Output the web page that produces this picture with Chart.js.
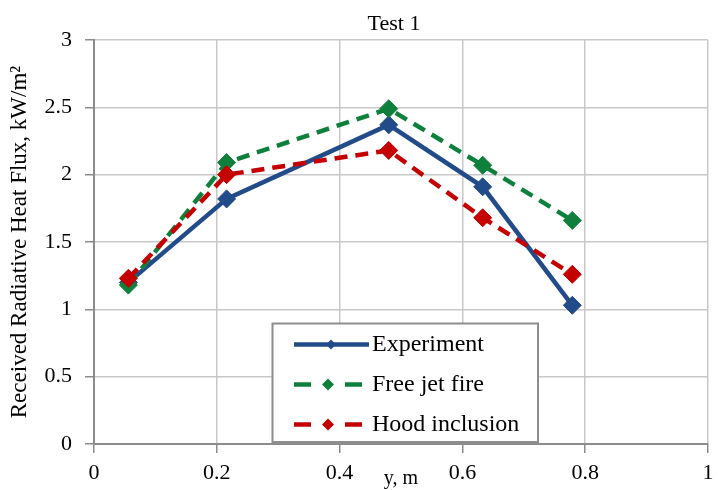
<!DOCTYPE html>
<html>
<head>
<meta charset="utf-8">
<script src="https://cdn.jsdelivr.net/npm/chart.js@4.4.1/dist/chart.umd.min.js"></script>
<style>
  html, body { margin: 0; padding: 0; background: #fff; }
  #wrap { width: 718px; height: 490px; }
</style>
</head>
<body>
<div id="wrap"><canvas id="c" width="718" height="490"></canvas></div>
<script>
// Test 1: received radiative heat flux along the y direction
const chartTitle = 'Test 1';
const xTitle = 'y, m';
const yTitle = 'Received Radiative Heat Flux, kW/m²';

const positions     = [0.056, 0.216, 0.48, 0.633, 0.779];
const experiment    = [1.20, 1.82, 2.37, 1.91, 1.03];
const freeJetFire   = [1.18, 2.09, 2.49, 2.07, 1.66];
const hoodInclusion = [1.23, 2.00, 2.18, 1.68, 1.26];
const seriesNames   = ['Experiment', 'Free jet fire', 'Hood inclusion'];

const xTicks = [0, 0.2, 0.4, 0.6, 0.8, 1];
const yTicks = [0, 0.5, 1, 1.5, 2, 2.5, 3];

const SERIF = "'Liberation Serif', 'Times New Roman', serif";
Chart.defaults.font.family = SERIF;
Chart.defaults.color = '#000';

const toPoints = (vals) => vals.map((v, i) => ({ x: positions[i], y: v }));

function series(label, values, color, dash, order) {
  return {
    label,
    data: toPoints(values),
    borderColor: color,
    backgroundColor: color,
    borderWidth: 4.5,
    borderDash: dash,
    pointStyle: 'rectRot',
    pointRadius: 9,
    pointBorderWidth: 1,
    pointBorderColor: color,
    pointBackgroundColor: color,
    tension: 0,
    order
  };
}

// Title and boxed legend drawn on top of the plot
const overlay = {
  id: 'overlay',
  afterDraw(chart) {
    const ctx = chart.ctx;
    ctx.save();
    ctx.fillStyle = '#000';
    ctx.font = '22px ' + SERIF;
    ctx.textAlign = 'center';
    ctx.textBaseline = 'alphabetic';
    ctx.fillText(chartTitle, 394, 29.5);

    // legend box
    const bx = 272.5, by = 323.5, bw = 265.5, bh = 118.5;
    ctx.fillStyle = '#fff';
    ctx.fillRect(bx, by, bw, bh);
    ctx.strokeStyle = '#8e8e8e';
    ctx.lineWidth = 2;
    ctx.strokeRect(bx, by, bw, bh);

    const rows = [344.5, 384.5, 424.5];
    chart.data.datasets.forEach((ds, i) => {
      const y = rows[i];
      const dashed = ds.borderDash && ds.borderDash.length;
      ctx.strokeStyle = ds.borderColor;
      ctx.fillStyle = ds.borderColor;
      ctx.lineWidth = 4.5;
      ctx.setLineDash([]);
      ctx.beginPath();
      if (dashed) {
        ctx.moveTo(294, y); ctx.lineTo(311, y);
        ctx.moveTo(345, y); ctx.lineTo(362, y);
      } else {
        ctx.moveTo(294, y); ctx.lineTo(369, y);
      }
      ctx.stroke();
      const r = dashed ? 6 : 5;
      const cx = dashed ? 328 : 331;
      ctx.beginPath();
      ctx.moveTo(cx - r, y); ctx.lineTo(cx, y - r);
      ctx.lineTo(cx + r, y); ctx.lineTo(cx, y + r);
      ctx.closePath();
      ctx.fill();
      ctx.fillStyle = '#000';
      ctx.font = '24px ' + SERIF;
      ctx.textAlign = 'left';
      ctx.textBaseline = 'alphabetic';
      ctx.fillText(ds.label, 372, y + 6);
    });
    ctx.restore();
  }
};

new Chart(document.getElementById('c'), {
  type: 'line',
  data: {
    datasets: [
      series(seriesNames[0], experiment, '#224b8a', [], 3),
      series(seriesNames[1], freeJetFire, '#0f803c', [13, 8], 2),
      series(seriesNames[2], hoodInclusion, '#c40000', [13, 8], 1)
    ]
  },
  options: {
    responsive: false,
    animation: false,
    layout: { padding: { top: 40, right: 3, bottom: 0, left: 0 } },
    plugins: {
      legend: { display: false },
      title: { display: false },
      tooltip: { enabled: false }
    },
    scales: {
      x: {
        type: 'linear',
        min: 0,
        max: 1,
        afterBuildTicks: (s) => { s.ticks = xTicks.map(v => ({ value: v })); },
        afterFit: (s) => { s.height = 46; s.paddingLeft = 0; s.paddingRight = 0; },
        ticks: {
          autoSkip: false,
          maxRotation: 0,
          padding: 6.8,
          font: { size: 22 },
          callback: (v) => String(v)
        },
        grid: { color: '#c8c8c8', lineWidth: 1.5, tickColor: '#8c8c8c', tickLength: 9 },
        border: { color: '#8c8c8c', width: 2 },
        title: { display: true, text: xTitle, font: { size: 20 }, padding: { top: 0, bottom: -1 } }
      },
      y: {
        type: 'linear',
        min: 0,
        max: 3,
        afterBuildTicks: (s) => { s.ticks = yTicks.map(v => ({ value: v })); },
        afterFit: (s) => { s.width = 94; },
        ticks: {
          autoSkip: false,
          padding: 13,
          font: { size: 22 },
          callback: (v) => String(v)
        },
        grid: { color: '#c8c8c8', lineWidth: 1.5, tickColor: '#8c8c8c', tickLength: 9 },
        border: { color: '#8c8c8c', width: 2 },
        title: { display: true, text: yTitle, font: { size: 23 }, padding: { top: 6.4, bottom: 0 } }
      }
    }
  },
  plugins: [overlay]
});
</script>
</body>
</html>
